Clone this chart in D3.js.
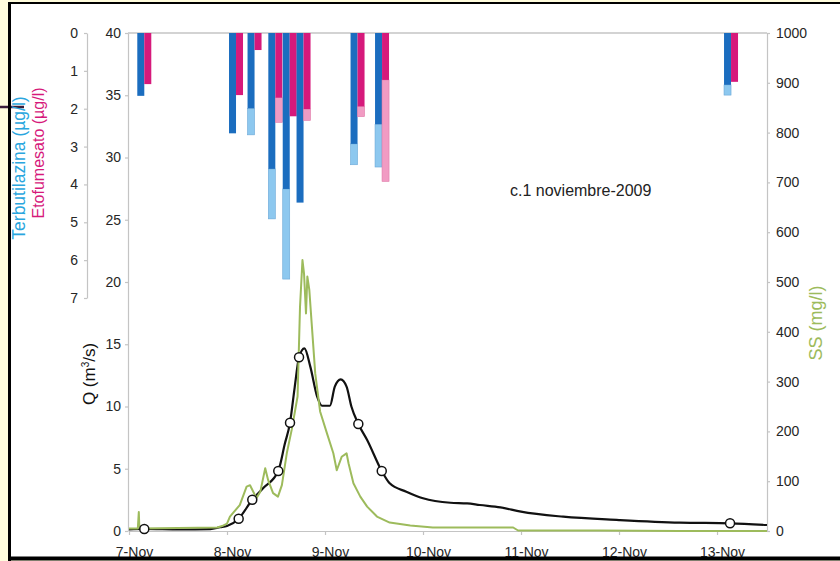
<!DOCTYPE html>
<html lang="es">
<head>
<meta charset="UTF-8">
<title>c.1 noviembre-2009</title>
<script src="https://d3js.org/d3.v7.min.js"></script>
<style>
  body { margin: 0; background: #fffcdc; }
  svg { display: block; font-family: "Liberation Sans", Arial, sans-serif; }
  .axis text { font-size: 14px; fill: #262626; }
  .axis path, .axis line { stroke: #c4c4c4; stroke-width: 1.2px; }
</style>
</head>
<body>
<div id="chart"></div>
<script>
// time is given in days after 7-Nov-2009 00:00
const dayTicks = [0, 1, 2, 3, 4, 5, 6];

// sampling bars (µg/l): dark = upper part, light = lower part of each bar
const barDays   = [0.156, 1.092, 1.281, 1.493, 1.640, 1.781, 2.332, 2.582, 6.143];
const terbDark  = [1.66, 2.65, 1.99, 3.59, 4.12, 4.48, 2.93, 2.41, 1.37];
const terbLight = [0, 0, 0.70, 1.32, 2.38, 0, 0.55, 1.13, 0.27];
const etoDark   = [1.35, 1.64, 0.45, 1.71, 2.20, 2.01, 1.94, 1.24, 1.29];
const etoLight  = [0, 0, 0, 0.65, 0, 0.30, 0.27, 2.68, 0];

// sample markers on the flow curve
const sampleDays = [0.156, 1.119, 1.258, 1.523, 1.643, 1.735, 2.340, 2.579, 6.133];
const sampleQ    = [0.16, 0.99, 2.51, 4.82, 8.7, 13.95, 8.6, 4.82, 0.62];

// flow Q (m3/s)
const qDays = [0, 0.156, 0.52, 0.83, 0.93, 1.0, 1.119, 1.258, 1.37, 1.523, 1.59, 1.643, 1.69, 1.735,
  1.79, 1.85, 1.92, 1.97, 2.05, 2.10, 2.16, 2.22, 2.27, 2.34, 2.43, 2.579, 2.66, 2.83, 3.0, 3.28,
  3.45, 3.58, 3.79, 4.0, 4.43, 5.0, 5.62, 6.133, 6.51];
const qVals = [0.12, 0.16, 0.12, 0.15, 0.30, 0.40, 0.99, 2.51, 3.45, 4.82, 7.0, 8.7, 11.5, 13.95,
  14.67, 13.2, 10.8, 10.06, 10.06, 11.6, 12.18, 11.6, 9.98, 8.6, 7.31, 4.82, 3.83, 3.16, 2.63, 2.27,
  2.22, 2.09, 1.9, 1.55, 1.15, 0.88, 0.67, 0.62, 0.48];

// suspended solids SS (mg/l)
const ssDays = [0, 0.09, 0.10, 0.105, 0.12, 0.5, 0.9, 0.95, 1.0, 1.03, 1.13, 1.20, 1.235, 1.30, 1.34,
  1.39, 1.42, 1.47, 1.52, 1.56, 1.61, 1.66, 1.72, 1.745, 1.77, 1.786, 1.806, 1.82, 1.84, 1.864,
  1.90, 1.95, 2.02, 2.085, 2.12, 2.17, 2.22, 2.24, 2.29, 2.36, 2.43, 2.53, 2.66, 2.87, 3.1, 3.58,
  3.92, 3.97, 4.8, 5.62, 6.51];
const ssVals = [5, 5, 38, 10, 5, 6, 7, 10, 15, 29, 52, 89, 92, 66, 79,
  126, 102, 76, 69, 92, 156, 203, 270, 450, 544, 517, 437, 511, 484, 417,
  317, 240, 196, 156, 122, 149, 156, 136, 96, 69, 49, 29, 17, 11, 7, 7,
  7, 1, 1, 0, 0];

const qTicks = d3.range(0, 41, 5);
const concTicks = d3.range(0, 8, 1);
const ssTicks = d3.range(0, 1001, 100);

const W = 840, H = 561;
const base = new Date(2009, 10, 7);
const toDate = d => new Date(base.getTime() + d * 864e5);

const svg = d3.select("#chart").append("svg")
  .attr("width", W).attr("height", H);

// slide frame background
svg.append("rect").attr("x", 9).attr("y", 3).attr("width", W).attr("height", 556).attr("fill", "#fff");
svg.append("line").attr("x1", 0).attr("x2", 24).attr("y1", 107).attr("y2", 107)
  .attr("stroke", "#3b1c3a").attr("stroke-width", 2.5);

// scales
const x = d3.scaleTime().domain([toDate(0), toDate(6.51)]).range([129, 767]);
const yQ = d3.scaleLinear().domain([0, 40]).range([531, 33]);
const ySS = d3.scaleLinear().domain([0, 1000]).range([531, 33]);
const yC = d3.scaleLinear().domain([0, 7]).range([33, 298]);

// axes
const gx = svg.append("g").attr("class", "axis").attr("transform", "translate(0,531)")
  .call(d3.axisBottom(x).tickValues(dayTicks.map(toDate)).tickFormat(d3.timeFormat("%-d-%b"))
    .tickSize(4).tickSizeOuter(0));
gx.selectAll("text").attr("dy", null).attr("y", 26).attr("dx", 5);

svg.append("g").attr("class", "axis").attr("transform", "translate(128,0)")
  .call(d3.axisLeft(yQ).tickValues(qTicks).tickFormat(d3.format("d"))
    .tickSize(3).tickSizeOuter(0).tickPadding(4));

svg.append("g").attr("class", "axis").attr("transform", "translate(87,0)")
  .call(d3.axisLeft(yC).tickValues(concTicks).tickFormat(d3.format("d"))
    .tickSize(3).tickSizeOuter(0).tickPadding(6));

svg.append("g").attr("class", "axis").attr("transform", "translate(767,0)")
  .call(d3.axisRight(ySS).tickValues(ssTicks).tickFormat(d3.format("d"))
    .tickSize(3).tickSizeOuter(0).tickPadding(6));

// top baseline for the hanging bars
svg.append("line").attr("x1", 128).attr("x2", 767).attr("y1", yC(0)).attr("y2", yC(0))
  .attr("stroke", "#c4c4c4").attr("stroke-width", 1.5);

// bars
const bw = 7;
const bars = barDays.map((d, i) => ({
  cx: x(toDate(d)),
  tD: terbDark[i], tL: terbLight[i], eD: etoDark[i], eL: etoLight[i]
}));

function stackBar(sel, off, dark, light, cDark, cLight, sLight) {
  sel.append("rect")
    .attr("x", d => d.cx + off).attr("width", bw)
    .attr("y", d => yC(d[dark])).attr("height", d => yC(d[dark] + d[light]) - yC(d[dark]))
    .attr("fill", cLight).attr("stroke", sLight).attr("stroke-width", 0.6);
  sel.append("rect")
    .attr("x", d => d.cx + off).attr("width", bw)
    .attr("y", yC(0)).attr("height", d => yC(d[dark]) - yC(0))
    .attr("fill", cDark);
}
const bg = svg.append("g").selectAll("g").data(bars).join("g");
stackBar(bg, -bw, "tD", "tL", "#1b6dbf", "#8dc8ef", "#6aa8d8");
stackBar(bg, 0, "eD", "eL", "#d6197b", "#f19bc3", "#e07aa8");

// lines
const qLine = d3.line().x(d => x(toDate(d[0]))).y(d => yQ(d[1])).curve(d3.curveMonotoneX);
svg.append("path").datum(qDays.map((d, i) => [d, qVals[i]]))
  .attr("d", qLine).attr("fill", "none").attr("stroke", "#111").attr("stroke-width", 2.2);

const ssLine = d3.line().x(d => x(toDate(d[0]))).y(d => ySS(d[1]));
svg.append("path").datum(ssDays.map((d, i) => [d, ssVals[i]]))
  .attr("d", ssLine).attr("fill", "none").attr("stroke", "#9dbb5c").attr("stroke-width", 2)
  .attr("stroke-linejoin", "round");

svg.append("g").selectAll("circle").data(sampleDays.map((d, i) => [d, sampleQ[i]])).join("circle")
  .attr("cx", d => x(toDate(d[0]))).attr("cy", d => yQ(d[1])).attr("r", 4.5)
  .attr("fill", "#fff").attr("stroke", "#111").attr("stroke-width", 1.5);

// titles
svg.append("text").attr("transform", "translate(25,168) rotate(-90)").attr("text-anchor", "middle")
  .attr("fill", "#2aa6de").style("font-size", "17.5px").text("Terbutilazina (µg/l)");
svg.append("text").attr("transform", "translate(44,153) rotate(-90)").attr("text-anchor", "middle")
  .attr("fill", "#d6197b").style("font-size", "16px").text("Etofumesato (µg/l)");

const qt = svg.append("text").attr("transform", "translate(95,374) rotate(-90)").attr("text-anchor", "middle")
  .attr("fill", "#111").style("font-size", "17px");
qt.append("tspan").text("Q (m");
qt.append("tspan").attr("dy", -6).style("font-size", "10px").text("3");
qt.append("tspan").attr("dy", 6).text("/s)");

svg.append("text").attr("transform", "translate(822,323) rotate(-90)").attr("text-anchor", "middle")
  .attr("fill", "#9dbb5c").style("font-size", "18px").text("SS (mg/l)");

svg.append("text").attr("x", 510).attr("y", 196).attr("fill", "#222").style("font-size", "16px")
  .text("c.1 noviembre-2009");

// slide frame border
svg.append("line").attr("x1", 9.5).attr("x2", 9.5).attr("y1", 2).attr("y2", 561)
  .attr("stroke", "#000").attr("stroke-width", 3);
svg.append("line").attr("x1", 8).attr("x2", W).attr("y1", 3).attr("y2", 3)
  .attr("stroke", "#000").attr("stroke-width", 2);
svg.append("line").attr("x1", 8).attr("x2", W).attr("y1", 558.5).attr("y2", 558.5)
  .attr("stroke", "#000").attr("stroke-width", 4);
</script>
</body>
</html>
